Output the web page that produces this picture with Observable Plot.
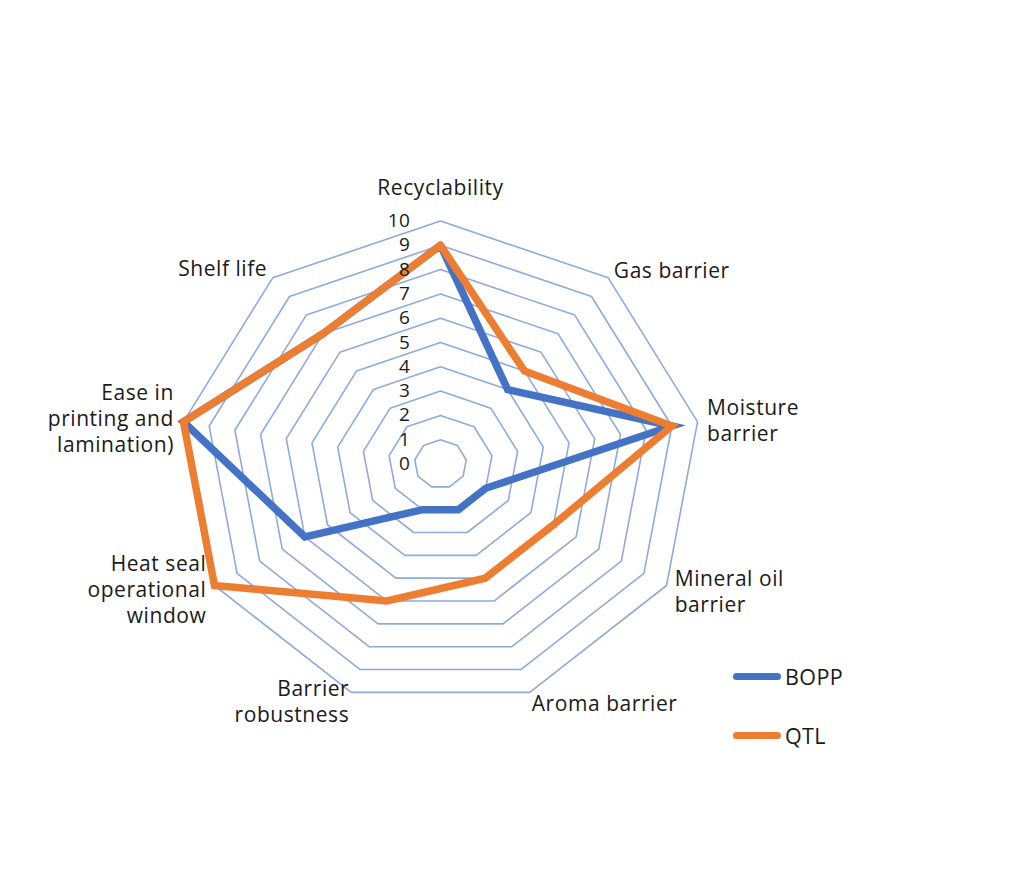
<!DOCTYPE html>
<html>
<head>
<meta charset="utf-8">
<script src="https://cdn.jsdelivr.net/npm/d3@7"></script>
<script src="https://cdn.jsdelivr.net/npm/@observablehq/plot@0.6"></script>
<style>
  html, body { margin: 0; padding: 0; background: #fff; }
  #wrap { position: relative; width: 1024px; height: 877px; }
  #legend { position: absolute; left: 733px; top: 660px; font-family: "Open Sans", sans-serif; font-size: 21.5px; color: #1a1a1a; letter-spacing: 0.4px; }
  .item { display: flex; align-items: center; height: 32px; }
  .item + .item { margin-top: 27px; }
  .sw { display: inline-block; width: 48px; height: 7px; border-radius: 4px; margin-right: 4px; }
</style>
</head>
<body>
<div id="wrap">
  <div id="chart"></div>
  <div id="legend"></div>
</div>
<script>
const axes = ["Recyclability", "Gas barrier", "Moisture\nbarrier", "Mineral oil\nbarrier", "Aroma barrier", "Barrier\nrobustness", "Heat seal\noperational\nwindow", "Ease in\nprinting and\nlamination)", "Shelf life"];
const bopp = [9, 4, 9, 2, 2, 2, 6, 10, 7];
const qtl = [9, 5, 9, 5, 5, 6, 10, 10, 7];
const seriesNames = ["BOPP", "QTL"];
const seriesColors = ["#4472C4", "#ED7D31"];
const levels = [1, 2, 3, 4, 5, 6, 7, 8, 9, 10];
const tickValues = [0, 1, 2, 3, 4, 5, 6, 7, 8, 9, 10];

const n = axes.length;
const ang = i => 2 * Math.PI * (i % n) / n;

// grid rings
const grid = [];
for (const L of levels) for (let i = 0; i <= n; i++) grid.push({level: L, x: L * Math.sin(ang(i)), y: L * Math.cos(ang(i))});

// series polygons
const seriesVals = [bopp, qtl];
const series = [];
seriesVals.forEach((vals, s) => {
  for (let i = 0; i <= n; i++) {
    const v = vals[i % n];
    series.push({name: seriesNames[s], x: v * Math.sin(ang(i)), y: v * Math.cos(ang(i))});
  }
});

// axis labels
const labR = 10.45;
const labels = axes.map((t, i) => ({text: t, i, x: labR * Math.sin(ang(i)), y: labR * Math.cos(ang(i))}));
const eps = 1e-6;
const topLabels = labels.filter(d => Math.abs(d.x) < eps);
const rightLabels = labels.filter(d => d.x >= eps);
const leftLabels = labels.filter(d => d.x <= -eps);

const font = {fontSize: 21, fill: "#1a1a1a", lineHeight: 1.23};

const chart = Plot.plot({
  width: 1024,
  height: 877,
  margin: 0,
  style: {fontFamily: "'Open Sans', sans-serif", letterSpacing: "0.55px", background: "#fff"},
  x: {domain: [-10, 10], range: [440 - 261, 440 + 261], axis: null},
  y: {domain: [-10, 10], range: [463.5 + 243, 463.5 - 243], axis: null},
  color: {domain: seriesNames, range: seriesColors},
  marks: [
    Plot.line(grid, {x: "x", y: "y", z: "level", stroke: "#8FAADC", strokeWidth: 1.6, curve: "linear"}),
    Plot.line(series, {x: "x", y: "y", z: "name", stroke: "name", strokeWidth: 7.5, strokeLinejoin: "miter", strokeLinecap: "round", strokeMiterlimit: 10}),
    Plot.text(tickValues, {x: () => 0, y: d => d, text: d => String(d), textAnchor: "end", dx: -30, fontSize: 19, fill: "#1a1a1a", style: "letter-spacing:1.2px"}),
    Plot.text(topLabels, {x: "x", y: "y", text: "text", textAnchor: "middle", lineAnchor: "bottom", dy: -15, ...font}),
    Plot.text(rightLabels, {x: "x", y: "y", text: "text", textAnchor: "start", lineAnchor: "middle", dx: -2, ...font}),
    Plot.text(leftLabels, {x: "x", y: "y", text: "text", textAnchor: "end", lineAnchor: "middle", dx: 2, dy: -2, ...font})
  ]
});
document.getElementById("chart").appendChild(chart);

const legend = document.getElementById("legend");
seriesNames.forEach((name, i) => {
  const item = document.createElement("div");
  item.className = "item";
  const sw = document.createElement("span");
  sw.className = "sw";
  sw.style.background = seriesColors[i];
  item.appendChild(sw);
  item.appendChild(document.createTextNode(name));
  legend.appendChild(item);
});
</script>
</body>
</html>
